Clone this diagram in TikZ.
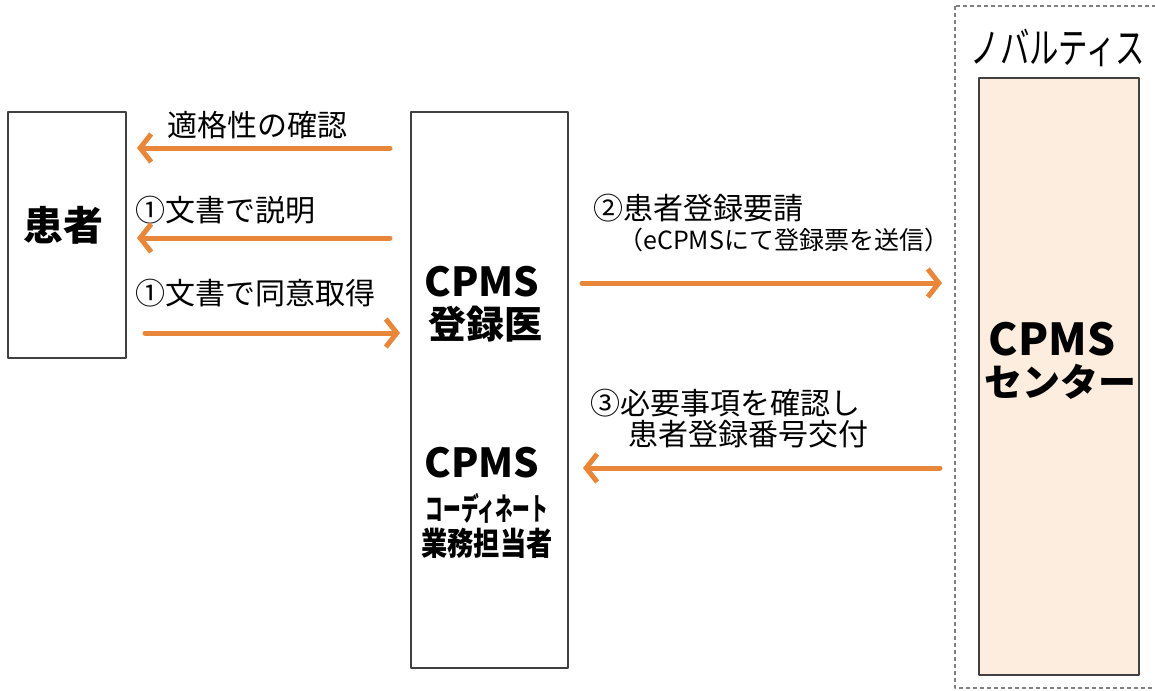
\documentclass[tikz,border=0pt]{standalone}
\usepackage{fontspec}
\setmainfont{Noto Sans CJK JP}
\usepackage{tikz}
\usetikzlibrary{arrows.meta,calc}
\definecolor{arrorange}{HTML}{E8873A}
\definecolor{centerfill}{HTML}{FCEDDF}
\newcommand{\squeeze}[2]{\scalebox{#1}[1]{#2}}

\begin{document}
\begin{tikzpicture}[x=1pt, y=-1pt, line cap=round, line join=round]
    \useasboundingbox (0,0) rectangle (1155,690);
    \clip (0,0) rectangle (1155,690);

    \tikzset{box/.style={draw=black!75, line width=2pt, inner sep=0pt},
             lbl/.style={inner sep=0pt, anchor=west, font=\fontsize{30}{32}\selectfont},
             big/.style={inner sep=0pt, font=\fontsize{38}{40}\selectfont\bfseries}}

    % outer (Novartis) frame
    \draw[gray, line width=1.5pt, dash pattern=on 4pt off 3pt, line cap=butt]
        (955,6) rectangle (1175,688);
    \node[inner sep=0pt, font=\fontsize{42}{44}\selectfont] (nov) at (1058,48)
        {\squeeze{0.7}{ノバルティス}};

    \node[box, minimum width=118pt, minimum height=246pt] (pat) at (67,235) {};
    \node[box, minimum width=157pt, minimum height=556pt] (doc) at (489.5,390) {};
    \node[box, fill=centerfill, minimum width=160pt, minimum height=597pt] (ctr) at (1059,376.5) {};

    \node[big, font=\fontsize{40}{42}\selectfont\bfseries] (patname) at (63,225) {患者};
    \node[big, font=\fontsize{40}{42}\selectfont\bfseries] (cpms1) at (482,282) {CPMS};
    \node[big] (docname) at (485,324) {登録医};
    \node[big, font=\fontsize{40}{42}\selectfont\bfseries] (cpms2) at (482,463) {CPMS};
    \node[inner sep=0pt, font=\fontsize{31}{33}\selectfont\bfseries] (coord) at (487,508)
        {\squeeze{0.57}{コーディネート}};
    \node[inner sep=0pt, font=\fontsize{32}{34}\selectfont\bfseries] (staff) at (487,543)
        {\squeeze{0.82}{業務担当者}};
    \node[big, font=\fontsize{44}{46}\selectfont\bfseries] (cpms3) at (1052,339) {CPMS};
    \node[big] (ctrname) at (1060,382) {センター};

    \node[lbl] (l1) at (167,125) {適格性の確認};
    \node[lbl] (l2) at (135,210) {①文書で説明};
    \node[lbl] (l3) at (135,293) {①文書で同意取得};
    \node[lbl] (l4) at (593,208) {②患者登録要請};
    \node[lbl, font=\fontsize{25}{27}\selectfont] (l4b) at (618,240) {（eCPMSにて登録票を送信）};
    \node[lbl] (l5) at (590,403) {③必要事項を確認し};
    \node[lbl] (l5b) at (628,434) {患者登録番号交付};

    \coordinate (a1s) at (390,148);  \coordinate (a1e) at (137,148);
    \coordinate (a2s) at (390,238);  \coordinate (a2e) at (137,238);
    \coordinate (a3s) at (145,333);  \coordinate (a3e) at (400,333);
    \coordinate (a4s) at (582,283);  \coordinate (a4e) at (942,283);
    \coordinate (a5s) at (940,468);  \coordinate (a5e) at (583,468);

    \tikzset{arr/.style={-{Straight Barb[length=11pt, width=28pt]}, line width=5pt, draw=arrorange}}

    \draw[arr] (a1s) -- (a1e);
    \draw[arr] (a2s) -- (a2e);
    \draw[arr] (a3s) -- (a3e);
    \draw[arr] (a4s) -- (a4e);
    \draw[arr] (a5s) -- (a5e);
\end{tikzpicture}
\end{document}
